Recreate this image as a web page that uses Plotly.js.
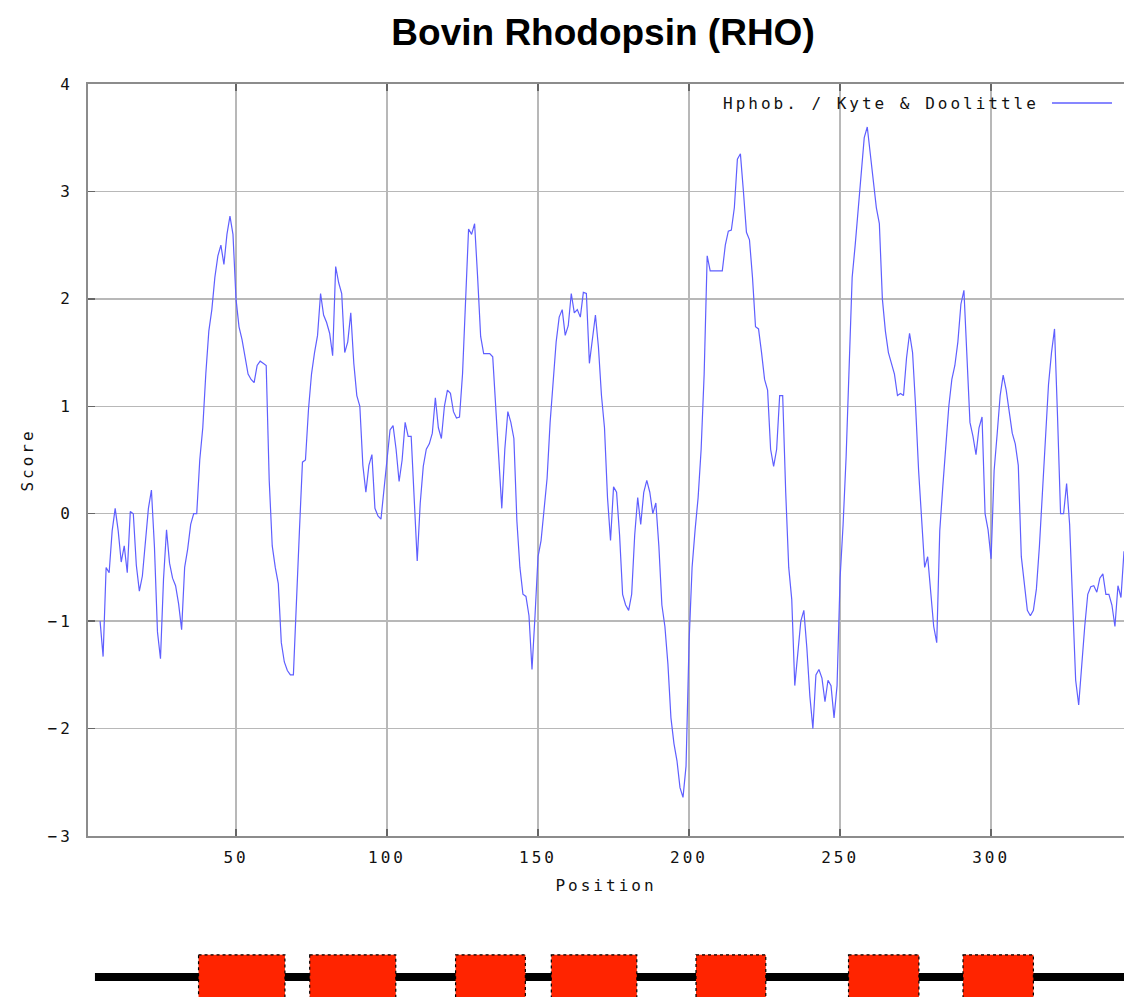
<!DOCTYPE html>
<html>
<head>
<meta charset="utf-8">
<script src="https://cdn.plot.ly/plotly-3.0.1.min.js"></script>
<style>
html, body { margin: 0; padding: 0; background: #fff; }
#chart { width: 1124px; height: 997px; }
.xtick text, .ytick text, text.xtitle, text.ytitle, text.annotation-text { letter-spacing: 3px; }
</style>
</head>
<body>
<div id="chart"></div>
<script>
// ---- data ----
const chartTitle = 'Bovin Rhodopsin (RHO)';
const seriesName = 'Hphob. / Kyte & Doolittle';
const startPosition = 5;   // first window centre
const scores = [
  -1.0,-1.33,-0.5,-0.55,-0.16,
  0.05,-0.16,-0.45,-0.3,-0.55,0.02,0.0,-0.48,-0.72,-0.58,
  -0.24,0.05,0.22,-0.31,-1.1,-1.35,-0.61,-0.15,-0.46,-0.6,
  -0.67,-0.84,-1.08,-0.5,-0.33,-0.1,0.0,0.0,0.5,0.8,
  1.3,1.7,1.9,2.2,2.4,2.5,2.32,2.6,2.77,2.6,
  2.0,1.74,1.62,1.45,1.3,1.25,1.22,1.38,1.42,1.4,
  1.38,0.31,-0.3,-0.5,-0.65,-1.2,-1.38,-1.46,-1.5,-1.5,
  -0.9,-0.16,0.48,0.5,0.97,1.3,1.5,1.66,2.05,1.85,
  1.78,1.68,1.47,2.3,2.15,2.05,1.5,1.6,1.87,1.4,
  1.1,1.0,0.45,0.2,0.45,0.55,0.05,-0.02,-0.05,0.25,
  0.48,0.78,0.82,0.6,0.3,0.5,0.85,0.72,0.72,0.1,
  -0.44,0.1,0.44,0.6,0.65,0.75,1.08,0.8,0.7,1.0,
  1.15,1.12,0.95,0.89,0.9,1.3,2.0,2.65,2.6,2.7,
  2.2,1.65,1.49,1.49,1.49,1.46,1.0,0.55,0.05,0.6,
  0.95,0.85,0.7,-0.07,-0.5,-0.75,-0.77,-0.95,-1.45,-0.95,
  -0.4,-0.25,0.08,0.33,0.85,1.2,1.6,1.83,1.9,1.66,
  1.75,2.05,1.87,1.9,1.83,2.06,2.05,1.4,1.6,1.85,
  1.55,1.1,0.8,0.15,-0.25,0.25,0.2,-0.2,-0.75,-0.85,
  -0.9,-0.75,-0.2,0.15,-0.1,0.2,0.31,0.2,0.0,0.1,
  -0.3,-0.85,-1.05,-1.4,-1.9,-2.14,-2.3,-2.55,-2.64,-2.35,
  -1.2,-0.5,-0.15,0.15,0.6,1.3,2.4,2.26,2.26,2.26,
  2.26,2.26,2.5,2.63,2.64,2.85,3.3,3.35,3.0,2.62,
  2.55,2.2,1.74,1.72,1.5,1.25,1.15,0.6,0.44,0.6,
  1.1,1.1,0.2,-0.5,-0.8,-1.6,-1.3,-1.0,-0.9,-1.25,
  -1.7,-2.0,-1.5,-1.45,-1.53,-1.75,-1.55,-1.6,-1.9,-1.6,
  -0.6,-0.1,0.53,1.3,2.2,2.5,2.85,3.2,3.5,3.6,
  3.35,3.05,2.85,2.7,2.0,1.7,1.5,1.4,1.3,1.1,
  1.12,1.1,1.45,1.68,1.5,1.0,0.4,-0.05,-0.5,-0.4,
  -0.7,-1.05,-1.2,-0.16,0.25,0.65,1.0,1.25,1.38,1.6,
  1.95,2.08,1.4,0.85,0.72,0.55,0.8,0.9,0.0,-0.15,
  -0.42,0.4,0.74,1.1,1.29,1.15,0.95,0.75,0.65,0.45,
  -0.4,-0.67,-0.9,-0.95,-0.9,-0.7,-0.3,0.2,0.7,1.2,
  1.5,1.72,0.9,0.0,0.0,0.28,-0.1,-0.8,-1.55,-1.78,
  -1.4,-1.05,-0.75,-0.68,-0.67,-0.73,-0.6,-0.56,-0.75,-0.75,
  -0.85,-1.05,-0.67,-0.78,-0.35
];
// transmembrane helices (sequence positions)
const helixStart = [37.6, 74.4, 122.7, 154.4, 202.3, 252.8, 290.7];
const helixEnd   = [66.2, 102.9, 145.8, 182.7, 225.4, 276.1, 314.0];
const sequenceSpan = [3.3, 350];
const xTicks = [50, 100, 150, 200, 250, 300];
const yTicks = [-3, -2, -1, 0, 1, 2, 3, 4];

// ---- build ----
const positions = scores.map((_, i) => startPosition + i);
const mono = 'DejaVu Sans Mono, monospace';
const lineBlue = 'rgb(95,95,255)';
const textCol = '#111';

const trace = {
  x: positions, y: scores, type: 'scatter', mode: 'lines',
  name: seriesName,
  line: { color: lineBlue, width: 1.2 },
  hoverinfo: 'x+y'
};

const trackY = -0.1875;
const shapes = [];
shapes.push({
  type: 'line', xref: 'x', yref: 'paper',
  x0: sequenceSpan[0], x1: sequenceSpan[1], y0: trackY, y1: trackY,
  line: { color: '#000', width: 8 }
});
helixStart.forEach((s, i) => {
  shapes.push({
    type: 'rect', xref: 'x', yref: 'paper',
    x0: s, x1: helixEnd[i], y0: -0.158, y1: -0.225,
    fillcolor: '#ff2400',
    line: { color: '#000', width: 1.2, dash: 'dot' }
  });
});
// legend sample line (gnuplot style: text then line)
shapes.push({
  type: 'line', xref: 'paper', yref: 'paper',
  x0: 0.9305, x1: 0.9884, y0: 0.9747, y1: 0.9747,
  line: { color: lineBlue, width: 1.5 }
});

const axisCommon = {
  showline: true, linecolor: '#8c8c8c', linewidth: 2,
  showgrid: true, gridcolor: '#b8b8b8', gridwidth: 1.5,
  zeroline: false,
  ticks: 'inside', ticklen: 7, tickwidth: 1.5, tickcolor: '#666',
  tickfont: { family: mono, size: 16, color: textCol },
  automargin: false, fixedrange: true
};

const layout = {
  width: 1124, height: 997,
  margin: { l: 88, r: 0, t: 84, b: 161 },
  paper_bgcolor: '#fff', plot_bgcolor: '#fff',
  showlegend: false,
  title: {
    text: chartTitle,
    font: { family: 'Liberation Sans, Arial, sans-serif', size: 37, color: '#000', weight: 700 },
    xref: 'container', yref: 'container',
    x: 0.5365, xanchor: 'center', y: 0.968, yanchor: 'middle'
  },
  xaxis: Object.assign({}, axisCommon, {
    range: [1, 344], tickmode: 'array', tickvals: xTicks, ticktext: xTicks.map(String),
    mirror: 'ticks', ticklabelstandoff: 6,
    title: { text: 'Position', font: { family: mono, size: 16, color: textCol }, standoff: 14 }
  }),
  yaxis: Object.assign({}, axisCommon, {
    range: [-3, 4], tickmode: 'array', tickvals: yTicks, ticktext: yTicks.map(v => v < 0 ? '\u2212' + Math.abs(v) : String(v)),
    mirror: false, ticklabelstandoff: 10,
    title: { text: 'Score', font: { family: mono, size: 16, color: textCol }, standoff: 10 }
  }),
  shapes: shapes,
  annotations: [{
    xref: 'paper', yref: 'paper', x: 0.611, y: 0.9747,
    xanchor: 'left', yanchor: 'middle', showarrow: false,
    text: seriesName,
    font: { family: mono, size: 16, color: textCol }
  }]
};

Plotly.newPlot('chart', [trace], layout, { staticPlot: true, displayModeBar: false });
</script>
</body>
</html>
